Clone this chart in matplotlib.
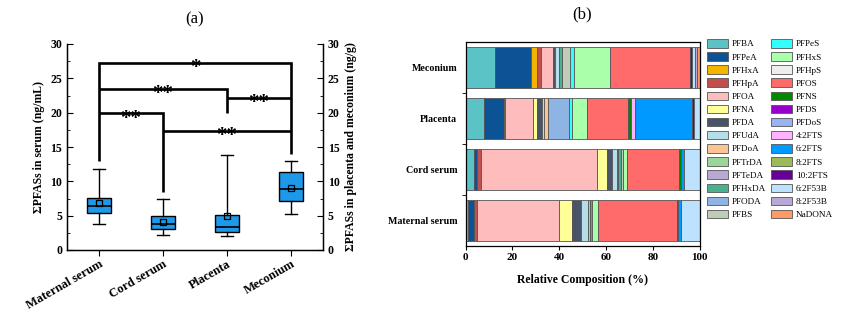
import matplotlib
matplotlib.use('Agg')
import matplotlib.pyplot as plt
from matplotlib.patches import Patch
from matplotlib.ticker import MultipleLocator, FixedLocator

plt.rcParams['font.family'] = ['Liberation Serif', 'DejaVu Serif']

# ---- panel (a): total PFASs per matrix ----
groups = ['Maternal serum', 'Cord serum', 'Placenta', 'Meconium']
whislo = [3.8, 2.2, 2.0, 5.2]
q1 = [5.4, 3.0, 2.6, 7.1]
med = [6.4, 3.8, 3.4, 8.9]
q3 = [7.6, 4.9, 5.1, 11.4]
whishi = [11.8, 7.4, 13.8, 13.0]
means = [6.8, 4.1, 5.0, 9.1]

# (left group, right group, bar height, left leg end, right leg end, label)
brackets = [
    (0, 3, 27.2, 13.0, 14.0, '*'),
    (0, 2, 23.5, 23.5, 20.0, '**'),
    (2, 3, 22.1, 22.1, 22.1, '**'),
    (0, 1, 19.9, 19.9, 8.4, '**'),
    (1, 3, 17.4, 17.4, 17.4, '**'),
]

# ---- panel (b): relative composition ----
samples = ['Maternal serum', 'Cord serum', 'Placenta', 'Meconium']
components = ['PFBA', 'PFPeA', 'PFHxA', 'PFHpA', 'PFOA', 'PFNA', 'PFDA', 'PFUdA',
              'PFDoA', 'PFTrDA', 'PFTeDA', 'PFHxDA', 'PFODA', 'PFBS', 'PFPeS',
              'PFHxS', 'PFHpS', 'PFOS', 'PFNS', 'PFDS', 'PFDoS', '4:2FTS',
              '6:2FTS', '8:2FTS', '10:2FTS', '6:2F53B', '8:2F53B', 'NaDONA']
colors = ['#5BC2C6', '#0B5394', '#F5B400', '#C0504D', '#FFBCBC', '#FFFF99',
          '#4A5468', '#B7DEE8', '#FAC493', '#9AD59A', '#B8A8D4', '#4AB08E',
          '#8DB4E2', '#BFCCB8', '#33FFFF', '#AAFFAA', '#EEEEEE', '#FF6B6B',
          '#008A00', '#9900CC', '#99B4F0', '#FFB3FF', '#0099FF', '#9BBB59',
          '#660099', '#BDE2FF', '#B8A8D8', '#FF9966']

maternal = [1.2, 2.6, 0, 1.0, 35.3, 5.5, 3.6, 3.3, 0, 0.7, 0, 1.0, 0, 0,
            0, 2.3, 0, 33.8, 0.7, 0, 0, 0, 1.1, 0, 0, 7.9, 0, 0]
cord = [3.6, 1.4, 0, 1.5, 49.8, 4.3, 2.1, 1.9, 0, 0.7, 0, 1.0, 0, 0.9,
        0, 1.9, 0, 22.3, 0.7, 0, 0, 0, 1.4, 0, 0, 6.5, 0, 0]
placenta = [8.0, 8.3, 0.6, 0, 12.1, 1.7, 1.9, 1.1, 1.7, 0, 0, 0, 9.0, 0,
            1.2, 6.2, 0, 17.8, 1.1, 0, 0, 1.9, 24.3, 0, 0.6, 2.5, 0, 0]
meconium = [12.4, 15.6, 2.4, 2.0, 5.2, 0, 0.8, 1.4, 0, 0, 0, 1.3, 0, 3.4,
            2.0, 15.1, 0, 34.5, 0, 0, 0, 0, 0, 0, 0.9, 0.9, 1.1, 1.0]
composition = [maternal, cord, placenta, meconium]

W, H = 849, 321
fig = plt.figure(figsize=(W / 100, H / 100), dpi=100)

# ---------------- (a) ----------------
ax = fig.add_axes([67 / W, 1 - 250 / H, 256 / W, 206 / H])
stats = [dict(label=g, whislo=a, q1=b, med=c, q3=d, whishi=e, mean=m)
         for g, a, b, c, d, e, m in zip(groups, whislo, q1, med, q3, whishi, means)]
ax.bxp(stats, positions=range(len(groups)), widths=0.39, patch_artist=True,
       showmeans=True, showfliers=False,
       boxprops=dict(facecolor='#1E98E8', edgecolor='black', linewidth=1.0),
       medianprops=dict(color='black', linewidth=1.2),
       whiskerprops=dict(color='black', linewidth=1.0),
       capprops=dict(color='black', linewidth=1.0),
       meanprops=dict(marker='s', markerfacecolor='none', markeredgecolor='black',
                      markersize=4.5, markeredgewidth=0.9))

for i, j, y, lo_i, lo_j, lab in brackets:
    ax.plot([i, i, j, j], [lo_i, y, y, lo_j], color='black', lw=1.9,
            solid_joinstyle='miter', solid_capstyle='butt')
    ax.text((i + j) / 2, y - 0.75, lab, ha='center', va='center',
            fontsize=15, fontweight='bold')

ax.set_xlim(-0.5, 3.5)
ax.set_ylim(0, 30)
ax.yaxis.set_major_locator(MultipleLocator(5))
ax.yaxis.set_minor_locator(MultipleLocator(2.5))
ax.spines['top'].set_visible(False)
for s in ('left', 'right', 'bottom'):
    ax.spines[s].set_linewidth(1.0)
ax.tick_params(axis='y', which='both', direction='in', labelsize=8.5)
ax.tick_params(axis='y', which='major', length=4)
ax.tick_params(axis='y', which='minor', length=2)
ax.tick_params(axis='x', direction='out', length=4, labelsize=9, pad=2)
ax.set_xticks(range(len(groups)))
ax.set_xticklabels(groups, rotation=30, ha='right', rotation_mode='anchor',
                   fontweight='bold')
for t in ax.get_yticklabels():
    t.set_fontweight('bold')
ax.set_ylabel('ΣPFASs in serum (ng/mL)', fontsize=8.5, fontweight='bold', labelpad=4)
ax.set_title('(a)', fontsize=12, pad=15)

ax2 = ax.twinx()
ax2.set_ylim(0, 30)
ax2.yaxis.set_major_locator(MultipleLocator(5))
ax2.yaxis.set_minor_locator(MultipleLocator(2.5))
ax2.spines['top'].set_visible(False)
ax2.tick_params(axis='y', which='both', direction='in', labelsize=8.5)
ax2.tick_params(axis='y', which='major', length=4)
ax2.tick_params(axis='y', which='minor', length=2)
for t in ax2.get_yticklabels():
    t.set_fontweight('bold')
ax2.set_ylabel('ΣPFASs in placenta and meconium (ng/g)', fontsize=8.5,
               fontweight='bold', labelpad=4)

# ---------------- (b) ----------------
bx = fig.add_axes([465.5 / W, 1 - 246 / H, 234 / W, 204 / H])
for k, row in enumerate(composition):
    left = 0.0
    for v, c in zip(row, colors):
        if v > 0:
            bx.barh(k, v, left=left, height=0.8, color=c,
                    edgecolor='#555555', linewidth=0.6)
        left += v

bx.set_xlim(0, 100)
bx.set_ylim(-0.5, 3.5)
bx.set_xticks(range(0, 101, 20))
bx.set_yticks(range(len(samples)))
bx.set_yticklabels(samples, fontweight='bold')
bx.yaxis.set_minor_locator(FixedLocator([0.5, 1.5, 2.5]))
bx.tick_params(axis='y', which='major', length=0, labelsize=7.2, pad=6)
bx.tick_params(axis='y', which='minor', length=3, direction='out')
bx.tick_params(axis='x', direction='out', length=3, labelsize=8, pad=2)
for t in bx.get_xticklabels():
    t.set_fontweight('bold')
bx.set_xlabel('Relative Composition (%)', fontsize=8.5, fontweight='bold', labelpad=9)
bx.set_title('(b)', fontsize=12, pad=17, x=0.5)
for s in bx.spines.values():
    s.set_linewidth(0.9)

handles = [Patch(facecolor=c, edgecolor='#555555', linewidth=0.6) for c in colors]
fig.legend(handles, components, loc='upper left',
           bbox_to_anchor=(707 / W, 1 - 39 / H), ncol=2, frameon=False,
           fontsize=6.6, handlelength=2.3, handleheight=1.05,
           handletextpad=0.45, labelspacing=0.41, columnspacing=0.45,
           borderpad=0, borderaxespad=0)

fig.savefig('out.png', dpi=100)
